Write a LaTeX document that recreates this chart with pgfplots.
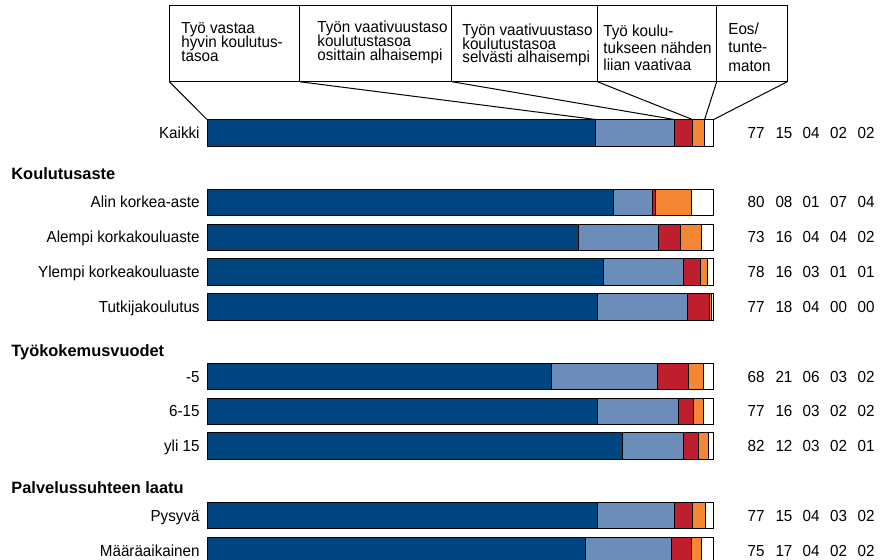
\documentclass[border=0pt]{standalone}
\usepackage{fontspec}
\setmainfont{Liberation Sans}[FakeStretch=0.95]
\newfontfamily\hdr{Liberation Sans}
\usepackage{pgfplots}
\usepackage{pgfplotstable}
\pgfplotsset{compat=1.18}
\definecolor{c1}{RGB}{0,69,128}
\definecolor{c2}{RGB}{108,140,185}
\definecolor{c3}{RGB}{190,30,45}
\definecolor{c4}{RGB}{245,134,52}

\pgfplotstableread{
y p1 p2 p3 p4 p5
132.9 76.7 15.5 3.6 2.4 1.8
202.5 80.2 7.7 0.7 7.0 4.4
237.5 73.3 15.9 4.3 4.1 2.4
272.2 78.3 15.7 3.4 1.4 1.2
307.0 77.0 17.8 4.4 0.4 0.4
376.7 67.9 21.0 6.1 3.0 2.0
411.5 77.0 16.0 3.0 2.0 2.0
446.2 82.0 12.0 3.0 2.0 1.0
515.7 77.1 15.1 3.6 2.6 1.6
550.6 74.7 16.9 4.0 2.0 2.4
}\data

\begin{document}
\begin{tikzpicture}
\useasboundingbox (0,0) rectangle (440pt,280pt);
\clip (0,0) rectangle (440pt,280pt);
\begin{axis}[at={(0,0)}, anchor=south west, scale only axis,
  width=440pt, height=280pt,
  xmin=-40.853, xmax=132.82, ymin=0, ymax=560, y dir=reverse,
  hide axis, xbar stacked, bar width=13.25pt,
  every axis plot/.append style={draw=black, line width=0.5pt}]
\addplot[fill=c1] table[x=p1,y=y]{\data};
\addplot[fill=c2] table[x=p2,y=y]{\data};
\addplot[fill=c3] table[x=p3,y=y]{\data};
\addplot[fill=c4] table[x=p4,y=y]{\data};
\addplot[fill=white] table[x=p5,y=y]{\data};
\end{axis}
\begin{scope}[yshift=280pt, x=0.5pt, y=-0.5pt,
  every node/.style={inner sep=0pt, font=\fontsize{8}{9}\selectfont}]
% header boxes
\draw[line width=0.5pt] (169.3,6) rectangle (787.3,81.7);
\foreach \xx in {299.3,451.7,597.3,716.7} \draw[line width=0.5pt] (\xx,6)--(\xx,81.7);
\draw[line width=0.5pt] (169.3,81.7)--(207,119.5);
\draw[line width=0.5pt] (299.3,81.7)--(595.6,119.5);
\draw[line width=0.5pt] (451.7,81.7)--(674.2,119.5);
\draw[line width=0.5pt] (597.3,81.7)--(692.4,119.5);
\draw[line width=0.5pt] (716.7,81.7)--(704.6,119.5);
\draw[line width=0.5pt] (787.3,81.7)--(713.7,119.5);
% header texts
\node[anchor=base west] at (181,33.3) {Työ vastaa};
\node[anchor=base west] at (181,47.7) {hyvin koulutus-};
\node[anchor=base west] at (181,61.7) {tasoa};
\node[anchor=base west] at (317,32.3) {Työn vaativuustaso};
\node[anchor=base west] at (317,46.7) {koulutustasoa};
\node[anchor=base west] at (317,61) {osittain alhaisempi};
\node[anchor=base west] at (462,36) {Työn vaativuustaso};
\node[anchor=base west] at (462,49.3) {koulutustasoa};
\node[anchor=base west] at (462,62.7) {selvästi alhaisempi};
\node[anchor=base west] at (603,37) {Työ koulu-};
\node[anchor=base west] at (603,54) {tukseen nähden};
\node[anchor=base west] at (603,71) {liian vaativaa};
\node[anchor=base west] at (728,35) {Eos/};
\node[anchor=base west] at (728,53) {tunte-};
\node[anchor=base west] at (728,71.7) {maton};
% group headers
\node[anchor=base west, font=\hdr\bfseries\fontsize{8.2}{9}\selectfont] at (11,180) {Koulutusaste};
\node[anchor=base west, font=\hdr\bfseries\fontsize{8.2}{9}\selectfont] at (11,357) {Työkokemusvuodet};
\node[anchor=base west, font=\hdr\bfseries\fontsize{8.2}{9}\selectfont] at (11,494) {Palvelussuhteen laatu};
% row labels and numbers
\foreach \yy/\lab/\a/\b/\c/\d/\e in {
 132.9/Kaikki/77/15/04/02/02,
 202.5/Alin korkea-aste/80/08/01/07/04,
 237.5/Alempi korkakouluaste/73/16/04/04/02,
 272.2/Ylempi korkeakouluaste/78/16/03/01/01,
 307.0/Tutkijakoulutus/77/18/04/00/00,
 376.7/-5/68/21/06/03/02,
 411.5/6-15/77/16/03/02/02,
 446.2/yli 15/82/12/03/02/01,
 515.7/Pysyvä/77/15/04/03/02,
 550.6/Määräaikainen/75/17/04/02/02}{
 \node[anchor=base east] at (200,\yy+5.5) {\lab};
 \node[anchor=base] at (756,\yy+5.5) {\a};
 \node[anchor=base] at (784,\yy+5.5) {\b};
 \node[anchor=base] at (811,\yy+5.5) {\c};
 \node[anchor=base] at (838.5,\yy+5.5) {\d};
 \node[anchor=base] at (866,\yy+5.5) {\e};
}
\end{scope}
\end{tikzpicture}
\end{document}
